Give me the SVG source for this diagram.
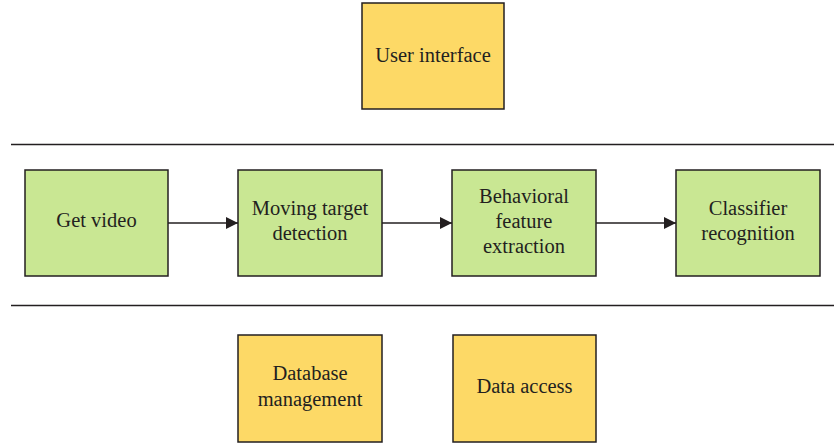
<svg xmlns="http://www.w3.org/2000/svg" width="834" height="445" viewBox="0 0 834 445">
<style>
.y{fill:#fdd966;stroke:#231f20;stroke-width:1.5}
.g{fill:#c9e793;stroke:#231f20;stroke-width:1.5}
.t{font-family:"Liberation Serif","Times New Roman",serif;font-size:20.5px;fill:#231f20;text-anchor:middle}
.l{stroke:#231f20;stroke-width:1.5;fill:none}
</style>
<defs>
<marker id="ah" markerWidth="12" markerHeight="12" refX="12" refY="6" orient="auto" markerUnits="userSpaceOnUse">
<path d="M0,0 L12,6 L0,12 Z" fill="#231f20"/>
</marker>
</defs>
<rect width="834" height="445" fill="#ffffff"/>
<g id="separators">
<line class="l" x1="11" y1="144.5" x2="834" y2="144.5"/>
<line class="l" x1="11" y1="305.5" x2="834" y2="305.5"/>
</g>
<g id="user-interface">
<rect class="y" x="362" y="3" width="142" height="106"/>
<text class="t" x="433" y="62">User interface</text>
</g>
<g id="get-video">
<rect class="g" x="25" y="170" width="143" height="106"/>
<text class="t" x="96.5" y="227">Get video</text>
</g>
<g id="moving-target">
<rect class="g" x="238" y="170" width="144" height="106"/>
<text class="t" x="310" y="215">Moving target</text>
<text class="t" x="310" y="240">detection</text>
</g>
<g id="behavioral">
<rect class="g" x="452" y="170" width="144" height="106"/>
<text class="t" x="524" y="203">Behavioral</text>
<text class="t" x="524" y="228">feature</text>
<text class="t" x="524" y="253">extraction</text>
</g>
<g id="classifier">
<rect class="g" x="676" y="170" width="144" height="106"/>
<text class="t" x="748" y="215">Classifier</text>
<text class="t" x="748" y="240">recognition</text>
</g>
<g id="database">
<rect class="y" x="238" y="335" width="144" height="107"/>
<text class="t" x="310" y="380">Database</text>
<text class="t" x="310" y="406">management</text>
</g>
<g id="data-access">
<rect class="y" x="453" y="335" width="143" height="107"/>
<text class="t" x="524.5" y="393">Data access</text>
</g>
<g id="connectors">
<line class="l" x1="168" y1="223" x2="238" y2="223" marker-end="url(#ah)"/>
<line class="l" x1="382" y1="223" x2="452" y2="223" marker-end="url(#ah)"/>
<line class="l" x1="596" y1="223" x2="676" y2="223" marker-end="url(#ah)"/>
</g>
</svg>
